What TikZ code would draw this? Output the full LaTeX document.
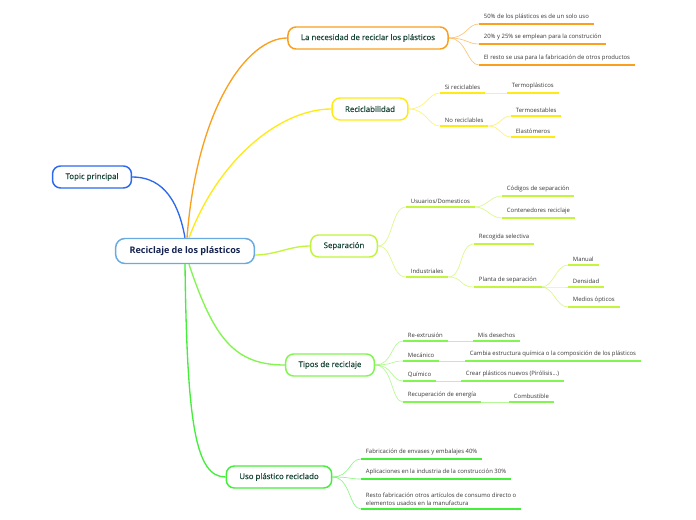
\documentclass[tikz,border=0pt]{standalone}
\usepackage{fontspec}
\setmainfont{Open Sans}
\newfontfamily\topicfont[FakeBold=0.4]{Open Sans}
\definecolor{rootblue}{RGB}{105,170,225}
\definecolor{topicblue}{RGB}{45,105,240}
\definecolor{orangeb}{RGB}{250,160,30}
\definecolor{yellowb}{RGB}{255,235,20}
\definecolor{limeb}{RGB}{195,245,60}
\definecolor{greenb}{RGB}{130,245,80}
\definecolor{deepgreenb}{RGB}{70,238,60}
\definecolor{navytext}{RGB}{20,35,80}
\definecolor{topictext}{RGB}{25,70,55}
\definecolor{leaftext}{RGB}{55,55,55}
\tikzset{
  mainbox/.style={draw=#1, line width=1.1pt, rounded corners=6pt, fill=white,
    minimum height=16.5pt, inner xsep=9.75pt, text=topictext,
    font=\topicfont\fontsize{5.9}{7}\selectfont},
  leaf/.style={anchor=south west, inner xsep=3.5pt, inner ysep=2.5pt, text=leaftext,
    font=\fontsize{4.45}{5.6}\selectfont,
    append after command={(\tikzlastnode.south west) edge[draw=#1, line width=1.1pt] (\tikzlastnode.south east)}},
  branch/.style={draw=#1, line width=1pt},
  link/.style={draw=#1, line width=0.5pt, draw opacity=0.6},
}
\begin{document}
\begin{tikzpicture}[x=0.75pt,y=-0.75pt]
\useasboundingbox[fill=white] (0,0) rectangle (696,520);

% centre and main topics
\node[draw=rootblue, line width=1.1pt, rounded corners=7pt, fill=white, minimum height=18.75pt,
  inner xsep=10.5pt, text=navytext, font=\bfseries\fontsize{6.8}{8}\selectfont] (root) at (185,251) {Reciclaje de los plásticos};
\node[mainbox=topicblue] (topic) at (92,177) {Topic principal};
\node[mainbox=orangeb] (need) at (368,38) {La necesidad de reciclar los plásticos};
\node[mainbox=yellowb] (recyc) at (370,109) {Reciclabilidad};
\node[mainbox=limeb] (sep) at (344,246) {Separación};
\node[mainbox=greenb] (types) at (330,365) {Tipos de reciclaje};
\node[mainbox=deepgreenb] (use) at (279,477) {Uso plástico reciclado};

\draw[branch=topicblue] (root.north) .. controls +(-8,-45) and +(25,0) .. (topic.east);
\draw[branch=orangeb] ([xshift=1.5pt]root.north) .. controls +(10,-130) and +(-40,0) .. (need.west);
\draw[branch=yellowb] ([xshift=3pt]root.north) .. controls +(30,-80) and +(-50,0) .. (recyc.west);
\draw[branch=limeb] ([yshift=-3pt]root.east) .. controls +(20,0) and +(-20,0) .. (sep.west);
\draw[branch=greenb] ([xshift=3pt]root.south) .. controls +(25,75) and +(-50,0) .. (types.west);
\draw[branch=deepgreenb] (root.south) .. controls +(2,160) and +(-30,0) .. (use.west);

% la necesidad
\node[leaf=orangeb] (a1) at (479,24) {50\% de los plásticos es de un solo uso};
\node[leaf=orangeb] (a2) at (479,44) {20\% y 25\% se emplean para la construción};
\node[leaf=orangeb] (a3) at (479,65) {El resto se usa para la fabricación de otros productos};
\foreach \n in {a1,a2,a3}
  \draw[link=orangeb] (need.east) .. controls +(18,0) and +(-12,0) .. (\n.south west);

% reciclabilidad
\node[leaf=yellowb] (b1) at (440,93) {Si reciclables};
\node[leaf=yellowb] (b11) at (507,93) {Termoplásticos};
\node[leaf=yellowb] (b2) at (440,126) {No reciclables};
\node[leaf=yellowb] (b21) at (511,116) {Termoestables};
\node[leaf=yellowb] (b22) at (511,137) {Elastómeros};
\foreach \n in {b1,b2}
  \draw[link=yellowb] (recyc.east) .. controls +(18,0) and +(-12,0) .. (\n.south west);
\draw[link=yellowb] (b1.south east) -- (b11.south west);
\foreach \n in {b21,b22}
  \draw[link=yellowb] (b2.south east) .. controls +(12,0) and +(-10,0) .. (\n.south west);

% separacion
\node[leaf=limeb] (c1) at (406,207) {Usuarios/Domesticos};
\node[leaf=limeb] (c11) at (502,196) {Códigos de separación};
\node[leaf=limeb] (c12) at (502,218) {Contenedores reciclaje};
\node[leaf=limeb] (c2) at (406,277) {Industriales};
\node[leaf=limeb] (c21) at (474,244) {Recogida selectiva};
\node[leaf=limeb] (c22) at (474,287) {Planta de separación};
\node[leaf=limeb] (c221) at (568,265) {Manual};
\node[leaf=limeb] (c222) at (568,287) {Densidad};
\node[leaf=limeb] (c223) at (568,307) {Medios ópticos};
\foreach \n in {c1,c2}
  \draw[link=limeb] (sep.east) .. controls +(15,0) and +(-15,0) .. (\n.south west);
\foreach \n in {c11,c12}
  \draw[link=limeb] (c1.south east) .. controls +(12,0) and +(-12,0) .. (\n.south west);
\foreach \n in {c21,c22}
  \draw[link=limeb] (c2.south east) .. controls +(15,0) and +(-15,0) .. (\n.south west);
\foreach \n in {c221,c222,c223}
  \draw[link=limeb] (c22.south east) .. controls +(12,0) and +(-12,0) .. (\n.south west);

% tipos de reciclaje
\node[leaf=greenb] (d1) at (403,341) {Re-extrusión};
\node[leaf=greenb] (d11) at (473,341) {Mis desechos};
\node[leaf=greenb] (d2) at (403,361) {Mecánico};
\node[leaf=greenb] (d21) at (465,361) {Cambia estructura química o la composición de los plásticos};
\node[leaf=greenb] (d3) at (403,381) {Químico};
\node[leaf=greenb] (d31) at (461,381) {Crear plásticos nuevos (Pirólisis...)};
\node[leaf=greenb] (d4) at (403,402) {Recuperación de energía};
\node[leaf=greenb] (d41) at (509,402) {Combustible};
\foreach \n in {d1,d2,d3,d4}
  \draw[link=greenb] (types.east) .. controls +(18,0) and +(-12,0) .. (\n.south west);
\foreach \a/\b in {d1/d11,d2/d21,d3/d31,d4/d41}
  \draw[link=greenb] (\a.south east) -- (\b.south west);

% uso plastico reciclado
\node[leaf=deepgreenb] (e1) at (361,459) {Fabricación de envases y embalajes 40\%};
\node[leaf=deepgreenb] (e2) at (361,479) {Aplicaciones en la industria de la construcción 30\%};
\node[leaf=deepgreenb, align=left] (e3) at (361,509) {Resto fabricación otros artículos de consumo directo o\\elementos usados en la manufactura};
\foreach \n in {e1,e2,e3}
  \draw[link=deepgreenb] (use.east) .. controls +(18,0) and +(-12,0) .. (\n.south west);
\end{tikzpicture}
\end{document}
